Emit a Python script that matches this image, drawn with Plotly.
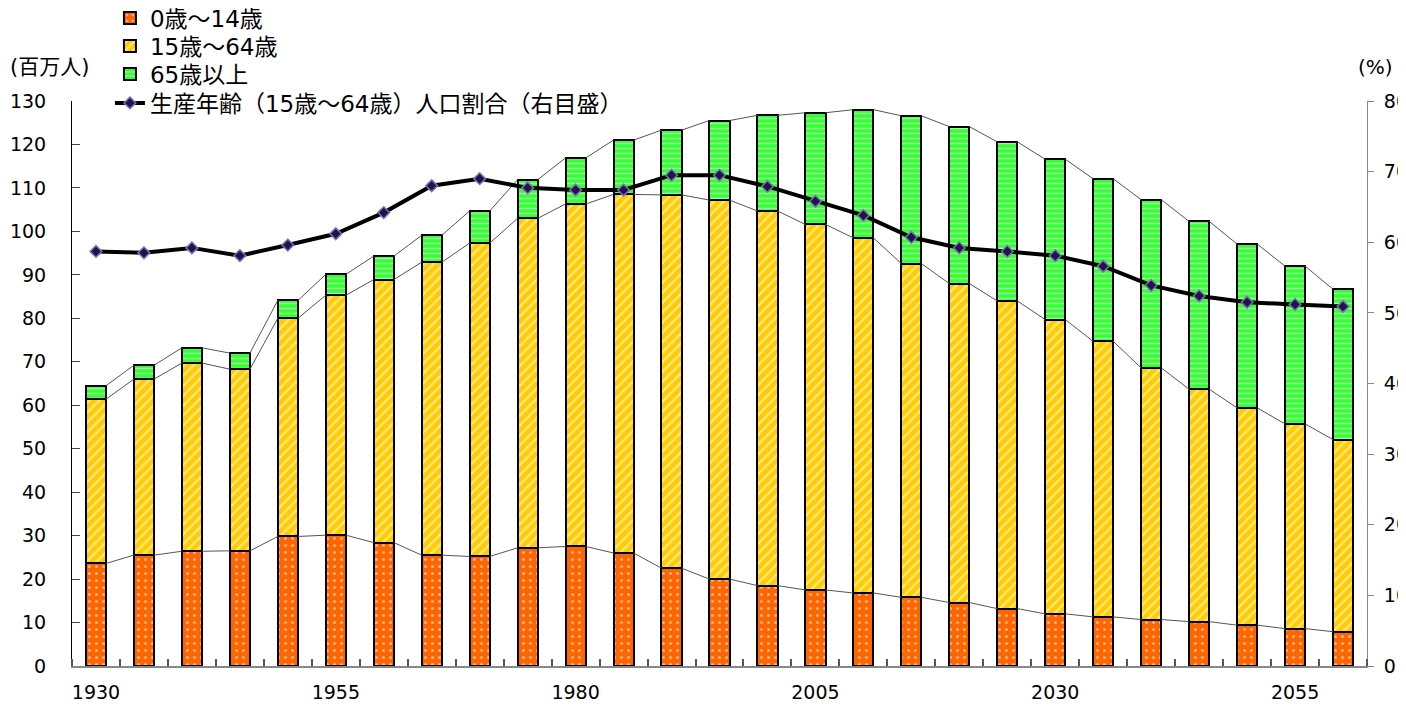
import plotly.graph_objects as go

years = list(range(1930, 2061, 5))
age_0_14 = [23.6, 25.5, 26.4, 26.5, 29.8, 30.1, 28.4, 25.5, 25.2, 27.2, 27.5, 26.0, 22.5,
            20.0, 18.5, 17.5, 16.8, 15.8, 14.6, 13.2, 12.0, 11.3, 10.7, 10.2, 9.4, 8.6, 7.9]
age_15_64 = [37.8, 40.5, 43.3, 41.8, 50.2, 55.2, 60.5, 67.4, 72.1, 75.8, 78.8, 82.5, 85.9,
             87.2, 86.2, 84.1, 81.7, 76.8, 73.4, 70.8, 67.7, 63.4, 57.9, 53.5, 50.0, 47.1, 44.2]
age_65 = [3.1, 3.2, 3.5, 3.7, 4.1, 4.8, 5.4, 6.2, 7.4, 8.9, 10.6, 12.5, 14.9,
          18.3, 22.0, 25.7, 29.5, 34.0, 36.1, 36.6, 36.9, 37.4, 38.7, 38.6, 37.7, 36.3, 34.6]
ratio = [58.7, 58.5, 59.2, 58.1, 59.6, 61.2, 64.2, 68.0, 69.0, 67.7, 67.4, 67.4, 69.5,
         69.5, 67.9, 65.8, 63.8, 60.7, 59.2, 58.7, 58.1, 56.6, 53.9, 52.4, 51.5, 51.2, 50.9]
label_years = [1930, 1955, 1980, 2005, 2030, 2055]

names = ["0歳～14歳", "15歳～64歳", "65歳以上", "生産年齢（15歳～64歳）人口割合（右目盛）"]

FONT = "DejaVu Sans, Noto Sans CJK JP, sans-serif"
BAR_W = 0.42
xi = list(range(len(years)))
legend_ids = ["legend", "legend2", "legend3", "legend4"]

fig = go.Figure()

patterns = [
    dict(shape=".", bgcolor="#FF6600", fgcolor="#FFFFFF", size=7, solidity=0.15),
    dict(shape="/", bgcolor="#FFCC00", fgcolor="#FFFFFF", size=7, solidity=0.35),
    dict(shape="-", bgcolor="#33FF33", fgcolor="#FFFFFF", size=5, solidity=0.3),
]
bg = ["#FF6600", "#FFCC00", "#33FF33"]
series = [age_0_14, age_15_64, age_65]

for s, nm, pat, c, lg in zip(series, names[:3], patterns, bg, legend_ids[:3]):
    fig.add_trace(go.Bar(
        x=xi, y=s, name=nm, width=BAR_W, legend=lg,
        marker=dict(color=c, pattern=pat, line=dict(color="#000000", width=2)),
    ))

# series (connector) lines between stacked tops
cum = [0.0] * len(years)
for s in series:
    cum = [a + b for a, b in zip(cum, s)]
    lx, ly = [], []
    for i in range(len(years) - 1):
        lx += [i + BAR_W / 2, i + 1 - BAR_W / 2, None]
        ly += [cum[i], cum[i + 1], None]
    fig.add_trace(go.Scatter(x=lx, y=ly, mode="lines", showlegend=False,
                             line=dict(color="#555555", width=1), hoverinfo="skip"))

fig.add_trace(go.Scatter(
    x=xi, y=ratio, name=names[3], yaxis="y2", mode="lines+markers", legend="legend4",
    line=dict(color="#000000", width=4),
    marker=dict(symbol="diamond", size=9, color="#1A1A40",
                line=dict(color="#8A66C8", width=1.5)),
))

legend_rows_y = [1.1469, 1.0973, 1.0478, 0.9965]
legend_common = dict(x=0.0293, xanchor="left", yanchor="middle",
                     font=dict(size=23), bgcolor="rgba(0,0,0,0)", itemwidth=30)
legend_layout = {lid: dict(y=yv, **legend_common) for lid, yv in zip(legend_ids, legend_rows_y)}

fig.update_layout(
    width=1398, height=698,
    barmode="stack",
    plot_bgcolor="white", paper_bgcolor="white",
    margin=dict(l=64, r=39, t=93, b=40, autoexpand=False),
    font=dict(family=FONT, size=19, color="#000000"),
    xaxis=dict(
        range=[-0.5, len(years) - 0.5],
        tickmode="array",
        tickvals=[years.index(y) for y in label_years],
        ticktext=[str(y) for y in label_years],
        ticks="", showgrid=False, zeroline=False, automargin=False,
        showline=True, linecolor="#888888", linewidth=2,
        ticklabelstandoff=8,
        minor=dict(tickmode="linear", tick0=0.5, dtick=1, ticks="inside",
                   ticklen=7, tickcolor="#555555", tickwidth=1.5, showgrid=False),
    ),
    yaxis=dict(
        range=[0, 130], dtick=10, tick0=0, automargin=False,
        ticks="inside", ticklen=8, tickcolor="#444444",
        showline=True, linecolor="#000000", linewidth=1,
        showgrid=False, zeroline=False, ticklabelstandoff=21,
    ),
    yaxis2=dict(
        range=[0, 80], dtick=10, tick0=0, overlaying="y", side="right",
        ticks="outside", ticklen=6, tickcolor="#888888", automargin=False,
        showline=True, linecolor="#888888", linewidth=1, ticklabeloverflow="allow",
        showgrid=False, zeroline=False, ticklabelstandoff=6,
    ),
    annotations=[
        dict(text="(百万人)", xref="paper", yref="paper", x=-0.0494, y=1.06,
             xanchor="left", yanchor="middle", showarrow=False, font=dict(size=21)),
        dict(text="(%)", xref="paper", yref="paper", x=1.0069, y=1.06,
             xanchor="center", yanchor="middle", showarrow=False, font=dict(size=20)),
    ],
    **legend_layout,
)

fig.write_html("out.html")
